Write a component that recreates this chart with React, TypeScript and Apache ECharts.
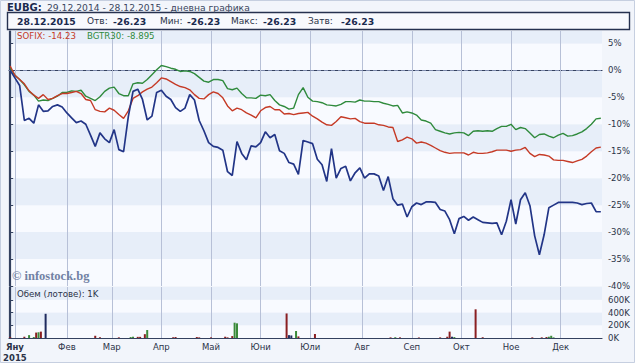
import React, { useEffect, useRef } from 'react';
import * as echarts from 'echarts';

// trading-day index of each month start (x axis unit = trading day since 29.12.2014)
const monthStarts = [2, 24, 43, 64, 85, 106, 127, 149, 170, 191, 212, 233];
const monthLabels = ['Яну', 'Фев', 'Мар', 'Апр', 'Май', 'Юни', 'Юли', 'Авг', 'Сеп', 'Окт', 'Ное', 'Дек'];
const yearLabel = '2015';

// series sampled every 2nd trading day, % change
const sampleStep = 2;
const eubg = [
  0, -1.4, -2.8, -9.3, -8.9, -9.8, -6.4, -7.6, -7.5, -6.7,
  -6.4, -6.8, -7.9, -8.8, -9.7, -9.4, -10.0, -12.0, -14.1, -11.6,
  -12.7, -13.4, -11.0, -14.7, -15.1, -8.6, -3.9, -3.5, -5.4, -9.2,
  -8.5, -4.1, -3.7, -4.8, -5.4, -6.9, -7.6, -7.0, -4.5, -5.5,
  -9.3, -11.2, -13.4, -14.1, -14.3, -14.8, -18.8, -19.5, -13.2, -15.4,
  -16.6, -14.0, -14.2, -13.4, -11.4, -12.5, -11.9, -14.9, -15.4, -17.1,
  -17.4, -19.3, -13.0, -13.3, -13.6, -16.5, -17.5, -20.6, -14.5, -20.0,
  -18.2, -17.8, -20.5, -19.0, -18.1, -20.0, -19.2, -19.2, -19.6, -22.3,
  -19.7, -23.8, -25.0, -24.8, -27.2, -25.3, -24.6, -24.9, -24.4, -24.4,
  -24.5, -25.8, -26.1, -27.7, -30.3, -27.5, -27.1, -27.8, -27.2, -27.7,
  -28.2, -28.3, -28.4, -28.3, -30.5, -28.0, -24.0, -28.5, -24.0, -22.7,
  -25.1, -30.7, -34.2, -30.5, -25.5, -25.0, -24.5, -24.5, -24.5, -24.5,
  -24.6, -24.9, -24.7, -24.6, -26.2, -26.23,
];
const sofix = [
  0.8, -0.9, -1.7, -2.5, -3.8, -4.6, -5.2, -4.5, -5.4, -5.2,
  -4.7, -4.3, -4.3, -4.1, -3.9, -4.3, -5.4, -5.6, -7.3, -7.6,
  -7.7, -7.0, -7.4, -8.2, -8.9, -7.5, -5.2, -4.7, -4.0, -3.5,
  -3.1, -2.3, -1.4, -1.6, -2.1, -2.6, -3.0, -3.2, -3.6, -4.5,
  -5.2, -5.3, -4.5, -4.0, -4.3, -5.1, -6.6, -7.5, -7.0, -7.3,
  -7.9, -8.3, -8.8, -7.5, -6.9, -6.7, -7.3, -7.3, -8.1, -8.0,
  -8.2, -8.0, -7.9, -7.8, -8.5, -9.0, -9.6, -10.1, -10.2, -9.5,
  -8.6, -8.8, -9.0, -8.9, -9.5, -9.8, -9.8, -9.8, -10.1, -10.2,
  -10.5, -10.6, -13.2, -12.9, -12.4, -12.7, -13.5, -13.3, -13.5, -13.9,
  -14.4, -14.9, -15.2, -15.4, -15.3, -15.3, -15.3, -15.7, -15.2, -15.4,
  -15.4, -15.3, -15.1, -14.8, -14.8, -14.8, -15.0, -14.8, -14.7, -14.3,
  -15.4, -16.0, -15.6, -15.7, -15.9, -16.6, -16.7, -16.7, -16.9, -17.1,
  -16.8, -16.5, -15.9, -15.1, -14.4, -14.23,
];
const bgtr30 = [
  0.4, -0.9, -1.7, -2.7, -3.9, -4.6, -5.7, -5.5, -5.6, -5.2,
  -4.8, -4.1, -4.1, -3.8, -3.9, -3.7, -4.8, -5.2, -5.6, -4.9,
  -3.9, -3.3, -3.1, -4.3, -4.7, -4.7, -2.5, -2.3, -2.4, -1.7,
  -0.8, 0.1, 0.9, 0.7, 0.4, 0.2, -0.2, -0.1, -0.2, -0.6,
  -1.3, -2.0, -2.2, -1.7, -1.7, -1.9, -3.4, -3.6, -3.3, -4.3,
  -5.1, -5.1, -5.2, -4.6, -4.7, -4.5, -5.6, -6.4, -6.7, -7.2,
  -7.0, -4.5, -3.2, -5.0, -5.7, -5.8, -6.0, -6.4, -6.5, -6.6,
  -6.3, -5.8, -5.8, -5.9, -5.5, -5.7, -5.7, -5.8, -5.8, -6.1,
  -6.3, -6.6, -6.5, -7.9, -7.7, -7.9, -8.3, -9.2, -9.4, -9.8,
  -11.0, -11.3, -11.6, -11.8, -11.6, -11.5, -11.6, -12.1, -11.3, -11.2,
  -11.3, -11.2, -11.3, -10.8, -10.4, -10.4, -10.0, -11.0, -10.6, -10.8,
  -11.6, -12.5, -11.9, -11.8, -12.2, -12.5, -12.0, -11.7, -12.2, -12.1,
  -11.8, -11.4, -10.8, -10.0, -9.0, -8.895,
];

// volume (thousand lots), trading-day index, direction (u up, d down, n unchanged)
const volDay = [0, 6, 8, 10, 11, 12, 13, 15, 36, 38, 46, 51, 52, 54, 55, 57, 58, 69, 70, 79, 80, 85, 91, 92, 94, 95, 96, 117, 118, 119, 121, 122, 129, 161, 163, 165, 173, 182, 185, 186, 187, 188, 197, 200, 221, 225, 227, 228, 229, 230];
const volK = [15, 20, 45, 15, 85, 90, 100, 380, 35, 12, 10, 15, 20, 18, 18, 60, 125, 12, 15, 15, 10, 10, 20, 10, 30, 240, 230, 385, 45, 40, 110, 25, 63, 10, 12, 10, 8, 10, 20, 100, 20, 15, 450, 12, 10, 10, 15, 20, 35, 10];
const volDir = ['d', 'd', 'u', 'u', 'd', 'u', 'd', 'n', 'd', 'd', 'd', 'u', 'u', 'd', 'd', 'd', 'u', 'd', 'd', 'd', 'd', 'd', 'd', 'd', 'd', 'u', 'u', 'd', 'n', 'n', 'u', 'd', 'd', 'd', 'u', 'd', 'd', 'd', 'd', 'd', 'n', 'u', 'd', 'd', 'd', 'd', 'd', 'u', 'u', 'u'];

const PCT_MIN = -40;
const PCT_MAX = 7.3;
const VOL_MAX = 800;

const FONT = '"DejaVu Sans", Verdana, sans-serif';
const AXIS = '#34415f';
const TEXT = '#2b3348';
const BLUE = '#223587';
const RED = '#c53a26';
const GREEN = '#2f8a3c';
const GRIDLINE = '#b7c0d7';
const dirColor: Record<string, string> = { u: '#3a8a3a', d: '#8a1f22', n: '#1f2b5f' };

export default function App() {
  const ref = useRef<HTMLDivElement>(null);
  useEffect(() => {
    const chart = echarts.init(ref.current!, null, { renderer: 'svg', width: 635, height: 363 });
    const toXY = (arr: number[]) => arr.map((v, i) => [i * sampleStep, v]);
    const monthMarks = monthStarts.map((m) => ({ xAxis: m }));
    const option: any = {
      animation: false,
      backgroundColor: '#f2f5fb',
      textStyle: { fontFamily: FONT },
      grid: [
        { left: 9, top: 31, width: 593, height: 255 },
        { left: 9, top: 287, width: 593, height: 51 },
      ],
      xAxis: [
        {
          gridIndex: 0, type: 'value', min: -0.5, max: 250.5,
          axisLine: { show: true, lineStyle: { color: AXIS, width: 1.2 } },
          axisTick: { show: false }, axisLabel: { show: false }, splitLine: { show: false },
        },
        {
          gridIndex: 1, type: 'value', min: -0.5, max: 250.5,
          axisLine: { show: true, lineStyle: { color: AXIS, width: 1.2 } },
          axisTick: { show: false }, splitLine: { show: false },
          axisLabel: {
            customValues: monthStarts,
            margin: 3,
            fontSize: 8.5,
            fontFamily: FONT,
            color: TEXT,
            lineHeight: 11,
            formatter: (v: number) => {
              const i = monthStarts.indexOf(v);
              if (i < 0) return '';
              if (i === 0) return '{b|' + monthLabels[0] + '}\n{b|' + yearLabel + '}';
              return monthLabels[i];
            },
            rich: { b: { fontWeight: 'bold', fontSize: 8.5, fontFamily: FONT, color: TEXT, lineHeight: 11 } },
          },
        },
      ],
      yAxis: [
        {
          gridIndex: 0, type: 'value', position: 'right', min: PCT_MIN, max: PCT_MAX, interval: 5,
          axisLine: { show: true, lineStyle: { color: AXIS, width: 1.2 } },
          axisTick: { show: true, length: 3, lineStyle: { color: AXIS } },
          axisLabel: { formatter: (v: number) => v + '%', showMaxLabel: false, margin: 6, fontSize: 8.5, fontFamily: FONT, color: TEXT },
          splitLine: { show: false },
          splitArea: { show: true, areaStyle: { color: ['#f8faff', '#e7eef9'] } },
        },
        {
          gridIndex: 1, type: 'value', position: 'right', min: 0, max: VOL_MAX, interval: 200,
          axisLine: { show: true, lineStyle: { color: AXIS, width: 1.2 } },
          axisTick: { show: true, length: 3, lineStyle: { color: AXIS } },
          axisLabel: { formatter: (v: number) => v + 'K', showMaxLabel: false, margin: 6, fontSize: 8.5, fontFamily: FONT, color: TEXT },
          splitLine: { show: false },
          splitArea: { show: true, areaStyle: { color: ['#f8faff', '#e7eef9'] } },
        },
        {
          gridIndex: 0, type: 'value', position: 'left', min: 0, max: 1,
          axisLine: { show: true, lineStyle: { color: AXIS, width: 1.2 } },
          axisTick: { show: false }, axisLabel: { show: false }, splitLine: { show: false },
        },
        {
          gridIndex: 1, type: 'value', position: 'left', min: 0, max: 1,
          axisLine: { show: true, lineStyle: { color: AXIS, width: 1.2 } },
          axisTick: { show: false }, axisLabel: { show: false }, splitLine: { show: false },
        },
      ],
      series: [
        {
          name: 'BGTR30', type: 'line', xAxisIndex: 0, yAxisIndex: 0, data: toXY(bgtr30),
          showSymbol: false, lineStyle: { color: GREEN, width: 1.4 }, itemStyle: { color: GREEN }, z: 3,
          markLine: {
            silent: true, symbol: ['none', 'none'], animation: false, z: 2,
            label: { show: false },
            lineStyle: { color: GRIDLINE, type: 'solid', width: 1 },
            data: [...monthMarks, { yAxis: 0, lineStyle: { color: '#7e8aac', type: [4, 3], width: 1 } }],
          },
        },
        {
          name: 'SOFIX', type: 'line', xAxisIndex: 0, yAxisIndex: 0, data: toXY(sofix),
          showSymbol: false, lineStyle: { color: RED, width: 1.4 }, itemStyle: { color: RED }, z: 4,
        },
        {
          name: 'EUBG', type: 'line', xAxisIndex: 0, yAxisIndex: 0, data: toXY(eubg),
          showSymbol: false, lineStyle: { color: BLUE, width: 1.7 }, itemStyle: { color: BLUE }, z: 5,
        },
        {
          name: 'Обем', type: 'bar', xAxisIndex: 1, yAxisIndex: 1, barWidth: 2, z: 4,
          data: volDay.map((d, i) => ({ value: [d, volK[i]], itemStyle: { color: dirColor[volDir[i]] } })),
          markLine: {
            silent: true, symbol: ['none', 'none'], animation: false, z: 2,
            label: { show: false },
            lineStyle: { color: GRIDLINE, type: 'solid', width: 1 },
            data: monthMarks,
          },
        },
      ],
      graphic: [
        { type: 'rect', silent: true, z: 0, shape: { x: 0.5, y: 0.5, width: 634, height: 362 }, style: { fill: 'none', stroke: '#c6cfe0', lineWidth: 1 } },
        { type: 'rect', silent: true, z: 1, shape: { x: 7.5, y: 12.5, width: 622, height: 17 }, style: { fill: '#f8f9fd', stroke: '#26314f', lineWidth: 1.4 } },
        { type: 'text', z: 10, x: 7, y: 7, style: { text: 'EUBG:', font: 'bold 10px ' + FONT, fill: '#1b2a4e', verticalAlign: 'middle' } },
        { type: 'text', z: 10, x: 47, y: 7, style: { text: '29.12.2014 - 28.12.2015 - дневна графика', font: '9.2px ' + FONT, fill: '#3a4660', verticalAlign: 'middle' } },
        { type: 'text', z: 10, x: 17, y: 21, style: { text: '28.12.2015', font: 'bold 9.3px ' + FONT, fill: '#1b2a4e', verticalAlign: 'middle' } },
        { type: 'text', z: 10, x: 87, y: 21, style: { text: 'Отв:', font: '9px ' + FONT, fill: '#2b3348', verticalAlign: 'middle' } },
        { type: 'text', z: 10, x: 113, y: 21, style: { text: '-26.23', font: 'bold 9.3px ' + FONT, fill: '#1b2a4e', verticalAlign: 'middle' } },
        { type: 'text', z: 10, x: 160, y: 21, style: { text: 'Мин:', font: '9px ' + FONT, fill: '#2b3348', verticalAlign: 'middle' } },
        { type: 'text', z: 10, x: 187, y: 21, style: { text: '-26.23', font: 'bold 9.3px ' + FONT, fill: '#1b2a4e', verticalAlign: 'middle' } },
        { type: 'text', z: 10, x: 231, y: 21, style: { text: 'Макс:', font: '9px ' + FONT, fill: '#2b3348', verticalAlign: 'middle' } },
        { type: 'text', z: 10, x: 263, y: 21, style: { text: '-26.23', font: 'bold 9.3px ' + FONT, fill: '#1b2a4e', verticalAlign: 'middle' } },
        { type: 'text', z: 10, x: 308, y: 21, style: { text: 'Затв:', font: '9px ' + FONT, fill: '#2b3348', verticalAlign: 'middle' } },
        { type: 'text', z: 10, x: 341, y: 21, style: { text: '-26.23', font: 'bold 9.3px ' + FONT, fill: '#1b2a4e', verticalAlign: 'middle' } },
        { type: 'text', z: 10, x: 17, y: 36, style: { text: 'SOFIX: -14.23', font: '8.6px ' + FONT, fill: RED, verticalAlign: 'middle' } },
        { type: 'text', z: 10, x: 87, y: 36, style: { text: 'BGTR30: -8.895', font: '8.6px ' + FONT, fill: GREEN, verticalAlign: 'middle' } },
        { type: 'text', z: 10, x: 17, y: 293.5, style: { text: 'Обем (лотове): 1K', font: '8.6px ' + FONT, fill: '#2b3348', verticalAlign: 'middle' } },
        { type: 'text', z: 10, x: 12, y: 276, style: { text: '© infostock.bg', font: 'bold 12.5px "Liberation Serif", "DejaVu Serif", serif', fill: '#7282a4', verticalAlign: 'middle' } },
      ],
    };
    chart.setOption(option);
    return () => chart.dispose();
  }, []);
  return <div ref={ref} style={{ position: 'fixed', left: 0, top: 0, width: 635, height: 363 }} />;
}
